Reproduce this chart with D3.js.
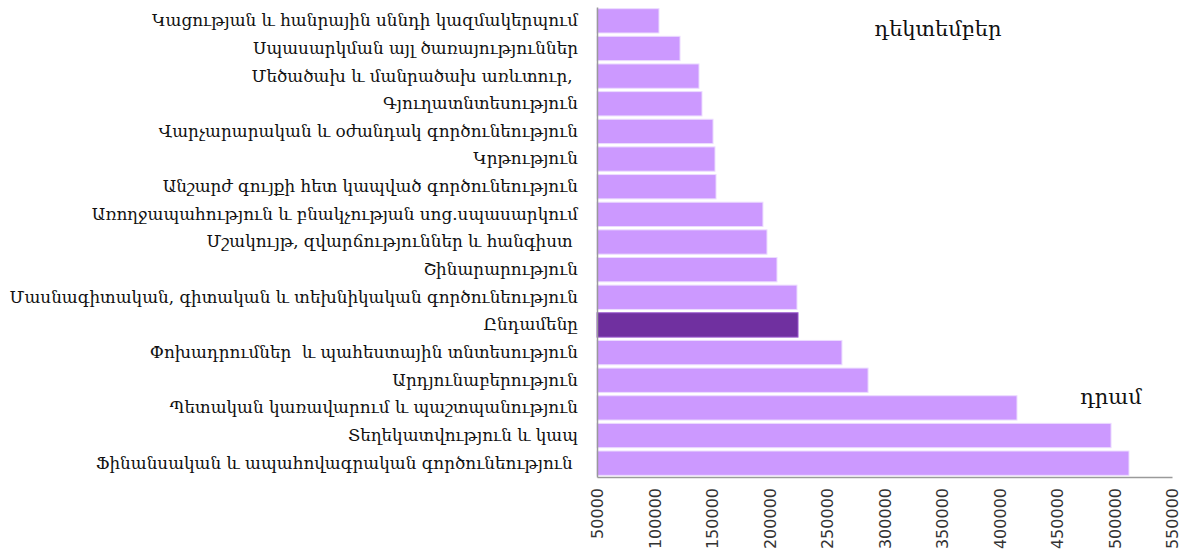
<!DOCTYPE html>
<html>
<head>
<meta charset="utf-8">
<script src="https://cdn.jsdelivr.net/npm/d3@7"></script>
<style>
    body { margin: 0; background: #fff; }
    svg text { white-space: pre; }
</style>
</head>
<body>
<div id="chart-container"></div>
<script>
// Categories top to bottom, as in the picture.
const categories = [
    "Կացության և հանրային սննդի կազմակերպում",
    "Սպասարկման այլ ծառայություններ",
    "Մեծածախ և մանրածախ առևտուր, ",
    "Գյուղատնտեսություն",
    "Վարչարարական և օժանդակ գործունեություն",
    "Կրթություն",
    "Անշարժ գույքի հետ կապված գործունեություն",
    "Առողջապահություն և բնակչության սոց.սպասարկում",
    "Մշակույթ, զվարճություններ և հանգիստ ",
    "Շինարարություն",
    "Մասնագիտական, գիտական և տեխնիկական գործունեություն",
    "Ընդամենը",
    "Փոխադրումներ  և պահեստային տնտեսություն",
    "Արդյունաբերություն",
    "Պետական կառավարում և պաշտպանություն",
    "Տեղեկատվություն և կապ",
    "Ֆինանսական և ապահովագրական գործունեություն "
];
const values = [
    103900, 122200, 138700, 141300, 150900, 152600, 153500, 194300, 197800,
    206500, 223900, 224800, 263000, 285700, 415200, 497000, 512600
];
const highlight = "Ընդամենը";
const xTicks = [50000, 100000, 150000, 200000, 250000, 300000, 350000, 400000, 450000, 500000, 550000];
const monthLabel = "դեկտեմբեր";
const unitLabel = "դրամ";

const containerWidth = 1189;
const containerHeight = 555;

const data = categories.map((name, i) => ({ name, value: values[i] }));

const svg = d3.select("#chart-container")
    .append("svg")
    .attr("width", containerWidth)
    .attr("height", containerHeight);

const margin = { top: 7, right: 17, bottom: 78, left: 597 };
const width = containerWidth - margin.left - margin.right;
const height = containerHeight - margin.top - margin.bottom;

const g = svg.append("g")
    .attr("transform", "translate(" + margin.left + "," + margin.top + ")");

// Scales.
const x = d3.scaleLinear()
    .domain([50000, 550000])
    .range([0, width]);

const y = d3.scaleBand()
    .domain(categories)
    .range([0, height])
    .paddingInner(0.12)
    .paddingOuter(0.06);

// Bars.
g.selectAll(".bar")
    .data(data)
    .enter()
    .append("rect")
    .attr("class", "bar")
    .attr("x", 0)
    .attr("y", (d) => y(d.name))
    .attr("width", (d) => x(d.value))
    .attr("height", y.bandwidth())
    .attr("fill", (d) => d.name === highlight ? "#7030A0" : "#CC99FF")
    .attr("stroke", (d) => d.name === highlight ? "#9b59d0" : "#ecdcff")
    .attr("stroke-width", 1);

// Category labels.
const yAxis = g.append("g")
    .call(d3.axisLeft(y).tickSize(0).tickPadding(19));
yAxis.select(".domain").attr("stroke", "#9a9a9a").attr("stroke-width", 1.5);
yAxis.selectAll("text")
    .style("font-family", "'DejaVu Serif', 'Liberation Serif', serif")
    .style("font-size", "16.8px")
    .attr("fill", "#111");

// Value axis, labels turned upright.
const xAxis = g.append("g")
    .attr("transform", "translate(0," + height + ")")
    .call(d3.axisBottom(x).tickValues(xTicks).tickSize(0).tickFormat(d3.format("d")));
xAxis.select(".domain").attr("stroke", "#9a9a9a").attr("stroke-width", 1.5);
xAxis.selectAll("text")
    .style("font-family", "'DejaVu Sans', sans-serif")
    .style("font-size", "16px")
    .attr("fill", "#333")
    .attr("transform", "rotate(-90)")
    .attr("text-anchor", "end")
    .attr("x", -11)
    .attr("y", 0)
    .attr("dy", "0.35em");

// Free labels.
svg.append("text")
    .attr("x", 938)
    .attr("y", 36)
    .attr("text-anchor", "middle")
    .style("font-family", "'DejaVu Serif', serif")
    .style("font-size", "21px")
    .attr("fill", "#111")
    .text(monthLabel);

svg.append("text")
    .attr("x", 1111)
    .attr("y", 404)
    .attr("text-anchor", "middle")
    .style("font-family", "'DejaVu Serif', serif")
    .style("font-size", "21px")
    .attr("fill", "#111")
    .text(unitLabel);
</script>
</body>
</html>
